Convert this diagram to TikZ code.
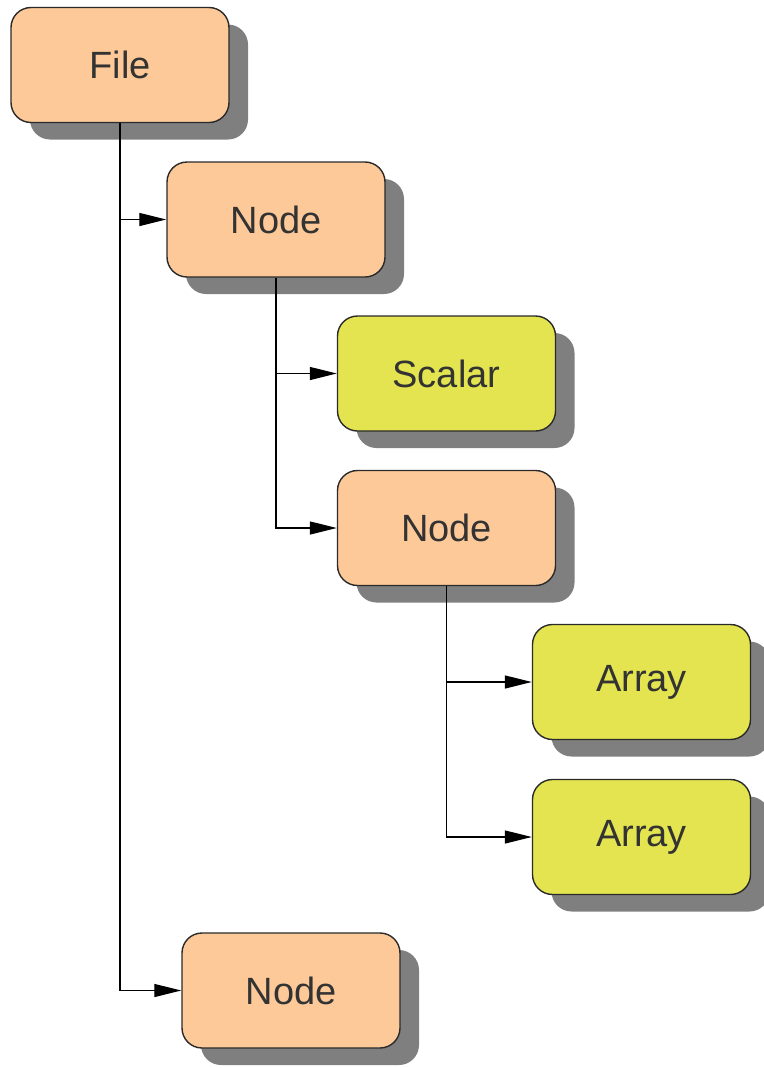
\documentclass[tikz,border=0pt]{standalone}
\usepackage{fontspec}
\setmainfont{Liberation Sans}
\usetikzlibrary{arrows.meta,shadows}
\definecolor{peach}{HTML}{FDC998}
\definecolor{lime}{HTML}{E3E44F}
\definecolor{boxline}{HTML}{2A2A2A}
\definecolor{labeltext}{HTML}{333333}
\definecolor{shade}{HTML}{7F7F7F}
\tikzset{
  box/.style={draw=boxline, line width=1.4pt, rounded corners=20pt,
    minimum width=218pt, minimum height=115pt, inner sep=0pt,
    text=labeltext, font=\fontsize{38}{42}\selectfont,
    drop shadow={shadow xshift=19pt, shadow yshift=-17pt, fill=shade, opacity=1}},
  group/.style={box, fill=peach},
  leaf/.style={box, fill=lime},
  link/.style={draw=black, line width=1.2pt,
    -{Triangle[length=27pt,width=13pt]}}
}
\begin{document}
\begin{tikzpicture}[x=1pt,y=-1pt]
\useasboundingbox (0,0) rectangle (763,1068);

\node[group] (file)   at (120,65)    {File};
\node[group] (node1)  at (276,219.5) {Node};
\node[leaf]  (scalar) at (446.5,373.5) {Scalar};
\node[group] (node2)  at (446.5,528) {Node};
\node[leaf]  (array1) at (641.5,682) {Array};
\node[leaf]  (array2) at (641.5,837) {Array};
\node[group] (node3)  at (291,990.5) {Node};

\draw[link] (file.south)  |- (node1.west);
\draw[link] (file.south)  |- (node3.west);
\draw[link] (node1.south) |- (scalar.west);
\draw[link] (node1.south) |- (node2.west);
\draw[link] (node2.south) |- (array1.west);
\draw[link] (node2.south) |- (array2.west);
\end{tikzpicture}
\end{document}
